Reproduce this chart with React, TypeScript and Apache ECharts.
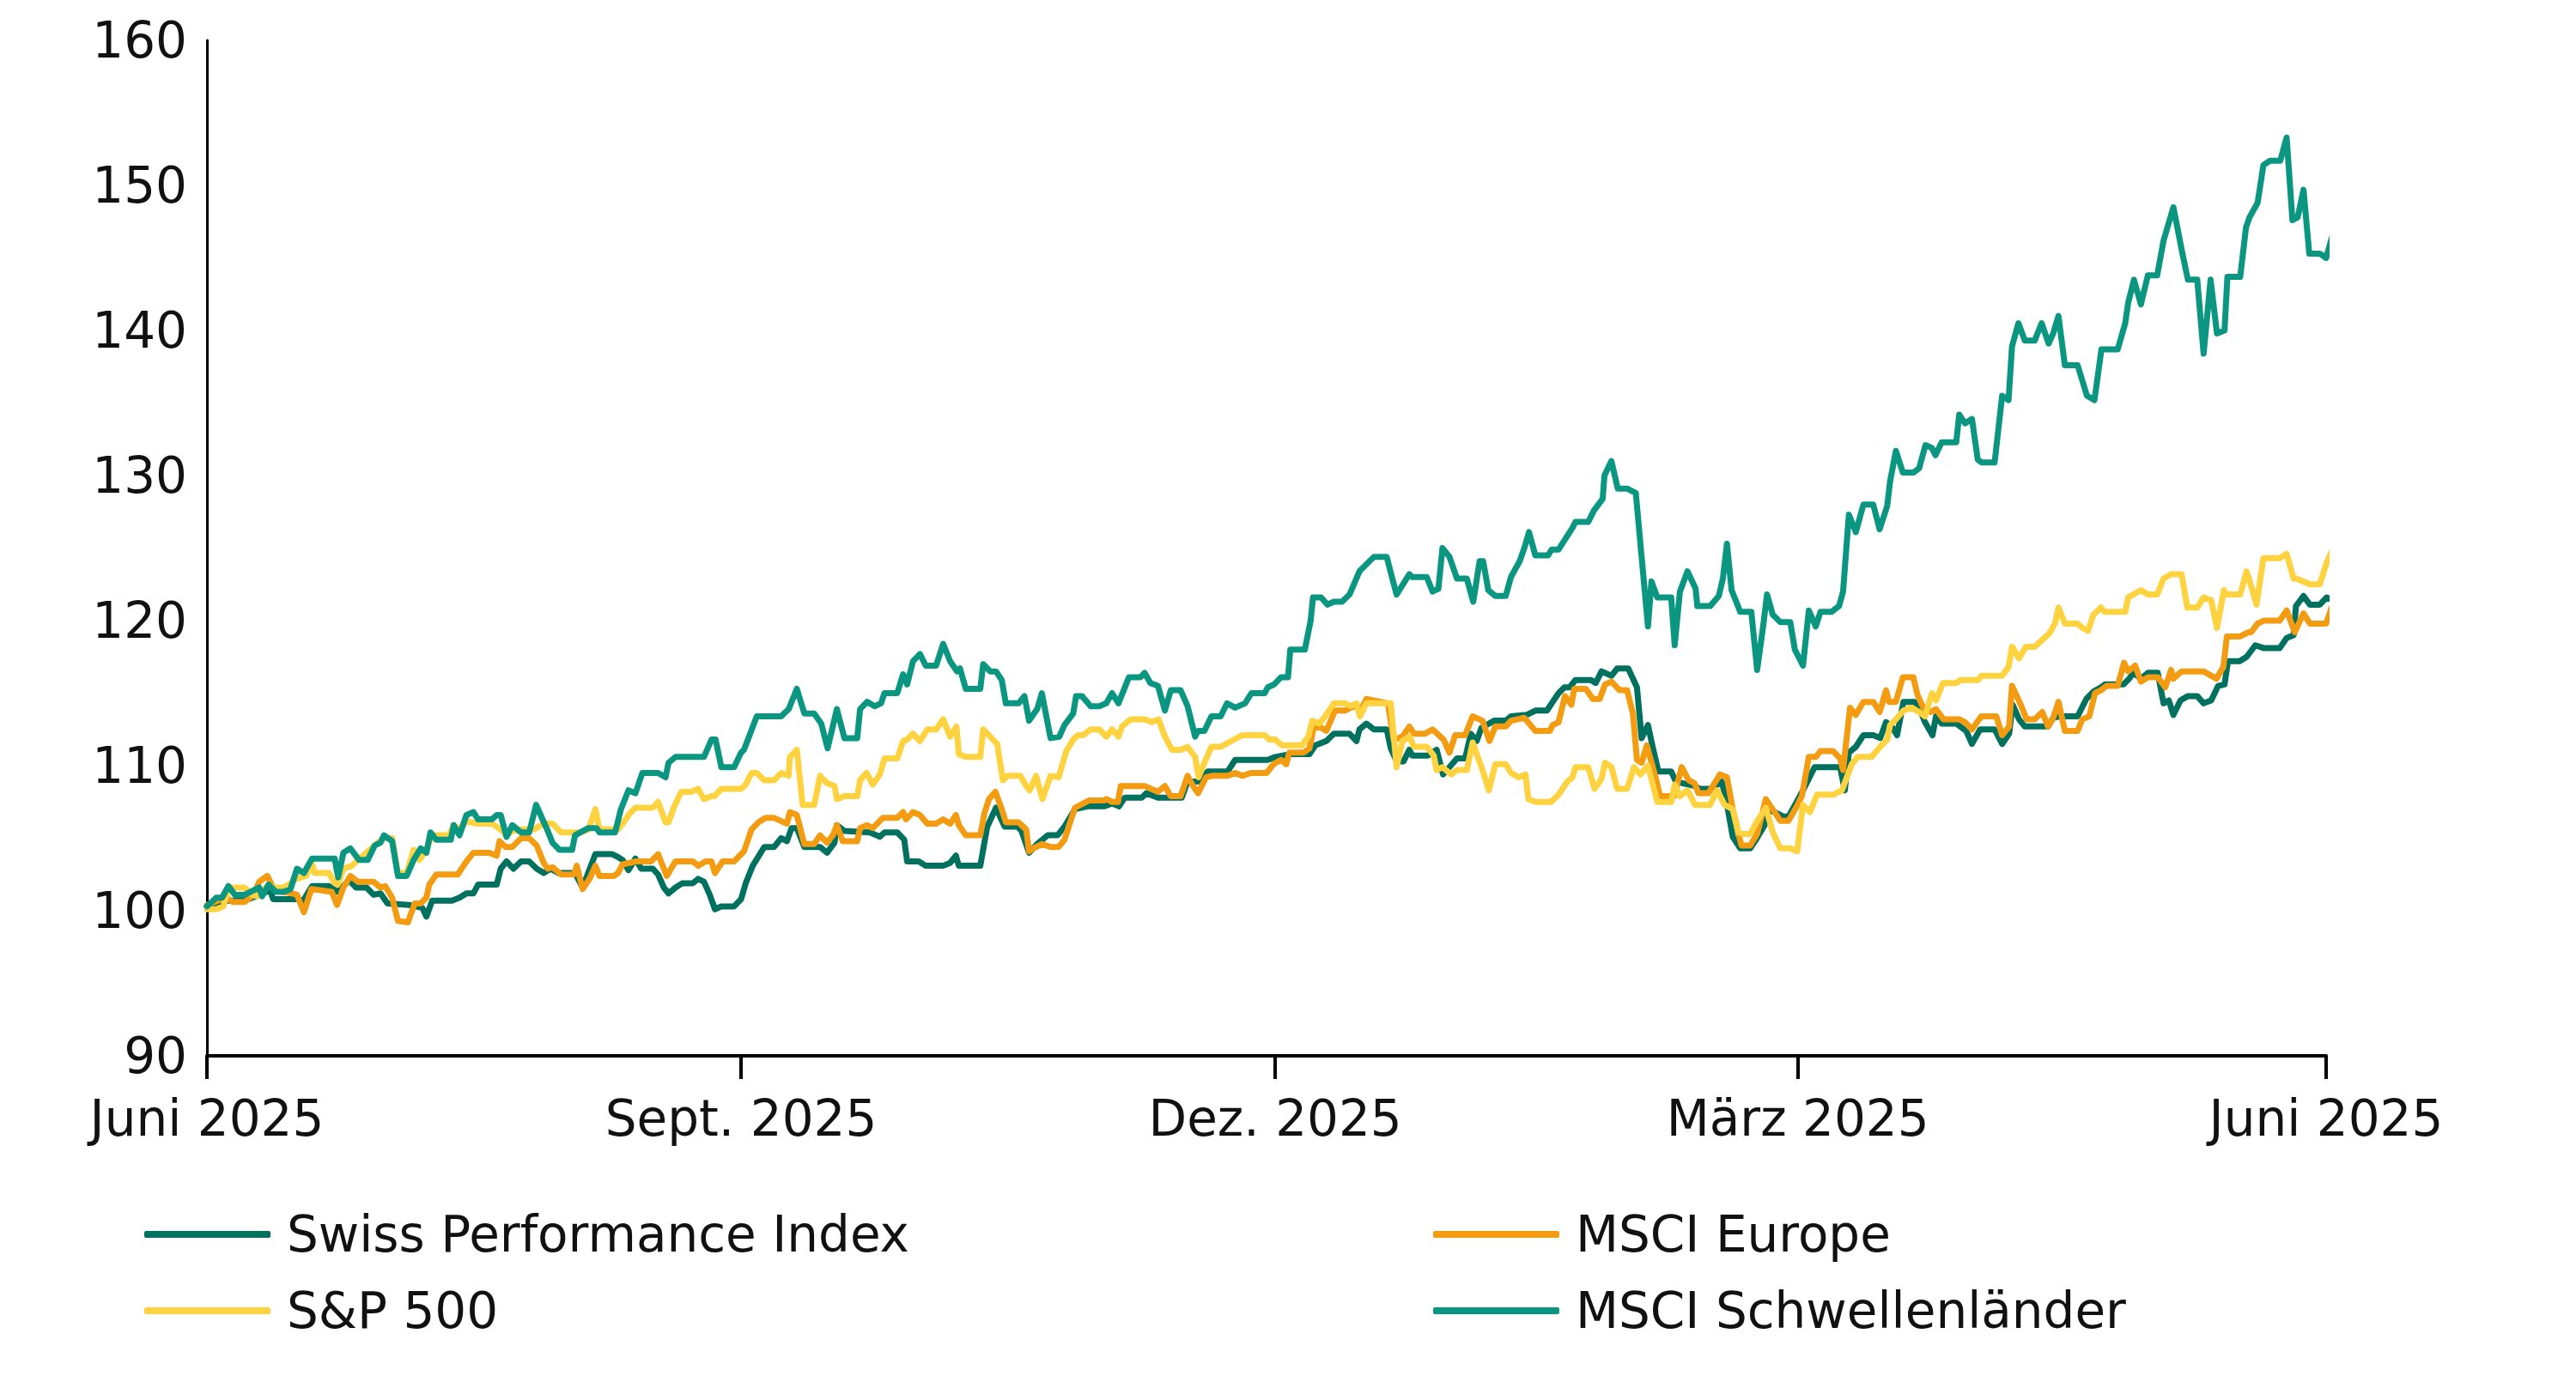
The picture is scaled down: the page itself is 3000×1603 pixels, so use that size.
import React, { useEffect, useRef } from "react";
import * as echarts from "echarts";

// x = days since start (Juni 2025), y = indexed value (start = 100)
const tickDays = [0, 92, 184, 274, 365];
const tickLabels = ["Juni 2025", "Sept. 2025", "Dez. 2025", "März 2025", "Juni 2025"];
const yTicks = [90, 100, 110, 120, 130, 140, 150, 160];

const spi: [number, number][] = [
  [0,100.3],[3.3,100.7],[6.5,100.7],[9.0,101.1],[10.9,101.4],[11.4,100.8],[15.4,100.8],[16.6,100.7],[18.1,101.7],[21.0,101.7],[22.5,101.3],[24.5,102.1],[25.7,101.6],[27.5,101.6],[28.7,101.1],[29.9,101.2],[31.1,100.5],[34.8,100.4],[37.1,100.2],[37.8,99.6],[38.8,100.7],[42.2,100.7],[43.5,100.9],[44.7,101.2],[45.9,101.2],[46.7,101.8],[49.9,101.8],[50.6,102.9],[51.6,103.4],[52.8,102.9],[54.1,103.4],[55.5,103.4],[56.8,102.9],[58.0,102.6],[59.2,102.9],[60.5,102.6],[63.4,102.6],[64.7,101.6],[66.9,103.9],[69.8,103.9],
  [70.8,103.7],[71.6,103.5],[72.6,102.8],[73.8,103.6],[74.8,102.9],[76.8,102.9],[77.7,102.5],[78.7,101.6],[79.5,101.2],[80.7,101.6],[81.9,101.9],[83.7,101.9],[84.6,102.2],[85.6,102.0],[86.6,101.1],[87.5,100.1],[88.6,100.3],[90.8,100.3],[92.0,100.8],[92.8,101.9],[94.0,103.1],[96.0,104.4],[97.7,104.4],[98.9,105.0],[99.9,104.8],[100.7,105.7],[101.6,105.7],[102.9,104.4],[105.6,104.4],[106.8,104.0],[108.1,104.7],[108.5,105.9],[109.8,105.5],[114.2,105.4],[115.9,105.1],[116.7,105.4],[118.9,105.4],[120.1,104.9],[120.6,103.4],[122.6,103.4],[123.8,103.1],[126.8,103.1],[128.0,103.3],[129.0,103.8],[129.5,103.1],[133.2,103.1],[134.4,105.8],[135.9,107.1],[137.4,105.8],[139.6,105.8],[140.3,105.5],[141.6,104.0],[143.0,104.6],[144.8,105.2],
  [146.5,105.2],[147.7,105.8],[149.5,107.0],[151.7,107.2],[154.6,107.2],[155.9,107.4],[157.1,107.2],[158.1,107.8],[161.0,107.8],[161.8,108.1],[163.8,107.8],[167.9,107.8],[168.9,108.9],[170.7,108.9],[172.4,109.6],[175.8,109.6],[177.1,110.4],[182.7,110.4],[184.0,110.6],[186.7,110.8],[189.9,110.8],[190.9,111.4],[192.8,111.7],[194.1,112.2],[196.8,112.2],[198.0,111.7],[198.5,112.5],[199.7,112.9],[201.0,112.5],[203.2,112.5],[203.9,111.2],[204.9,110.3],[206.1,110.3],[207.1,111.1],[207.6,110.7],[210.3,110.7],[211.8,111.1],[212.9,109.4],[214.0,109.9],[215.3,110.5],[216.7,110.5],[217.7,112.2],
  [218.7,111.7],[219.5,112.6],[221.7,113.1],[223.7,113.1],[224.6,113.4],[227.3,113.5],[228.8,113.8],[230.8,113.8],[231.8,114.4],[232.8,115.0],[233.8,115.4],[234.7,115.4],[235.7,115.9],[238.4,115.9],[239.2,115.7],[240.2,116.5],[241.9,116.2],[242.9,116.7],[244.8,116.7],[246.3,115.4],[247.1,111.9],[248.2,112.8],[249.0,111.3],[250.0,109.6],[252.2,109.6],[253.0,108.9],[256.2,108.6],[257.2,108.4],[258.9,108.4],[260.9,108.9],[261.6,107.8],[262.8,105.1],[264.1,104.3],[265.8,104.3],[266.8,104.9],[268.3,105.9],[268.5,107.0],[270.0,106.8],[271.5,106.5],[272.4,106.5],[273.4,107.2],[274.9,108.3],[276.9,109.9],[281.3,109.9],[282.1,108.3],[282.8,110.9],[284.0,111.3],[285.3,112.1],[287.0,112.1],[288.2,111.9],[289.2,113.0],[290.2,112.7],[291.1,112.1],[292.2,114.4],[294.1,114.4],
  [294.9,114.0],[295.9,113.0],[297.2,112.1],[297.8,113.4],[298.8,112.9],[301.3,112.9],[302.3,112.6],[303.0,112.4],[304.0,111.5],[305.4,112.5],[307.9,112.5],[309.2,111.5],[310.4,112.2],[311.0,114.2],[312.1,113.2],[313.1,112.7],[317.1,112.7],[318.0,113.3],[319.0,113.4],[322.2,113.4],[323.7,114.6],[324.9,115.1],[326.2,115.4],[326.9,115.6],[330.1,115.6],[331.1,116.0],[331.8,116.4],[333.1,116.0],[334.3,116.4],[336.0,116.4],[337.0,114.3],[337.9,114.5],[338.7,113.5],[339.9,114.5],[341.2,114.8],[342.8,114.8],[343.9,114.3],[345.2,114.5],[346.4,115.5],[347.5,115.6],[348.1,117.2],[350.1,117.2],[351.3,117.5],[352.8,118.3],[354.3,118.1],[357.0,118.1],[358.2,118.8],[359.4,119.0],[359.8,121.0],[361.1,121.7],[362.2,121.1],[363.9,121.1],[365.1,121.6],[366.2,121.4],
];

const msciEurope: [number, number][] = [
  [0,100.4],[3.3,100.9],[4.5,100.6],[6.5,100.6],[8.0,101.1],[9.0,102.0],[10.4,102.4],[11.4,101.6],[13.2,101.3],[14.6,101.2],[15.5,101.1],[16.7,99.9],[18.0,101.5],[21.5,101.3],[22.4,100.4],[23.5,101.6],[24.7,102.4],[26.0,102.0],[28.7,102.0],[29.9,101.6],[30.7,101.7],[31.9,100.9],[32.9,99.3],[34.6,99.2],[35.8,100.5],[36.8,100.5],[37.8,100.9],[38.3,101.8],[39.5,102.5],[43.2,102.5],[44.7,103.4],[45.9,104.0],[48.6,104.0],[49.9,103.8],[50.4,104.8],[51.4,104.4],[52.6,104.4],[54.1,105.0],[55.5,105.0],[56.8,104.5],[58.0,103.3],[58.7,102.9],[59.5,103.0],[61.0,102.5],[63.2,102.5],[63.7,103.1],[64.7,101.5],[65.9,102.2],[66.9,103.1],[67.6,102.4],[70.1,102.4],
  [70.8,102.6],[71.6,103.2],[72.8,103.3],[73.8,103.4],[76.5,103.4],[77.7,103.9],[79.2,102.4],[80.7,103.4],[83.7,103.4],[84.6,103.1],[85.9,103.4],[86.9,103.4],[87.5,102.6],[88.8,103.4],[90.8,103.4],[92.5,104.1],[93.8,105.6],[95.0,106.1],[96.2,106.4],[97.7,106.4],[99.9,106.0],[100.4,106.8],[101.6,106.6],[102.9,104.6],[104.6,104.6],[105.6,105.2],[106.8,104.7],[107.8,105.2],[108.5,105.9],[109.5,104.8],[112.0,104.8],[112.5,105.7],[113.7,105.9],[114.7,105.7],[116.4,106.4],[118.9,106.4],[119.9,106.8],[120.4,106.3],[121.6,106.8],[122.8,106.6],[124.1,106.0],[125.6,106.0],[126.8,106.3],[128.0,106.0],[129.0,106.6],[129.5,105.9],[130.7,105.2],[133.2,105.2],[133.9,106.7],[134.7,107.7],[135.8,108.2],[136.9,107.0],[137.6,106.1],[139.8,106.1],[141.1,105.6],[141.6,104.1],[142.3,104.3],[143.8,104.6],[145.3,104.4],[146.7,104.4],[147.7,104.9],
  [149.5,107.1],[151.9,107.6],[154.4,107.6],[154.9,107.7],[155.9,107.5],[156.9,107.5],[157.4,108.6],[161.5,108.6],[163.8,108.2],[165.0,108.6],[166.0,107.9],[167.7,107.9],[168.9,109.3],[169.7,108.7],[170.7,108.1],[172.1,109.2],[173.1,109.3],[175.8,109.3],[177.1,109.5],[178.3,109.3],[179.8,109.5],[182.5,109.5],[183.7,110.1],[185.0,110.4],[185.9,110.1],[186.4,110.9],[188.9,110.9],[189.9,111.2],[190.6,112.6],[191.6,112.7],[192.8,112.4],[194.3,113.8],[196.0,113.8],[197.0,114.0],[198.0,114.1],[198.8,113.9],[199.7,114.6],[203.4,114.3],[204.4,111.8],[205.9,112.0],[207.1,112.7],[207.9,112.2],[209.8,112.2],[211.1,112.5],[213.0,111.8],[214.0,110.9],[215.0,112.1],[216.7,112.1],[218.0,113.4],
  [219.7,113.1],[220.9,111.7],[221.9,112.7],[223.7,112.7],[224.6,113.1],[226.9,113.3],[228.8,112.4],[231.3,112.4],[231.8,112.8],[232.8,113.0],[233.9,114.8],[235.0,114.2],[235.5,115.3],[237.5,115.3],[238.7,114.6],[239.9,114.6],[240.8,115.6],[241.9,115.8],[243.3,115.2],[244.6,115.2],[245.6,113.6],[246.3,110.4],[247.1,110.2],[248.0,111.4],[249.3,109.5],[250.3,107.9],[252.7,107.9],[254.0,109.9],[255.2,109.0],[256.2,108.8],[256.9,108.1],[258.6,108.1],[260.6,109.4],[261.8,109.2],[262.8,107.0],[263.8,105.3],[264.3,104.5],[265.8,104.5],[267.0,105.3],[268.5,107.7],[270.0,106.8],[271.0,106.2],[272.4,106.2],[273.7,107.1],[274.7,107.9],[275.9,110.6],[277.1,110.6],[277.9,111.0],[280.1,111.0],[281.3,110.5],[281.8,109.7],[283.0,114.0],[284.0,113.5],[285.3,114.4],[287.0,114.4],[288.1,113.7],[289.2,115.2],[289.7,114.4],[290.9,114.4],[292.1,116.1],[293.9,116.1],
  [294.6,114.9],[295.6,114.0],[296.9,113.7],[297.8,113.9],[299.1,113.2],[301.8,113.2],[302.8,113.0],[304.0,112.5],[305.6,113.4],[308.2,113.4],[309.2,112.1],[310.4,112.7],[310.9,115.5],[312.4,114.2],[313.4,113.2],[314.8,113.2],[316.1,113.7],[317.1,112.7],[318.0,113.3],[318.9,114.4],[320.0,112.4],[322.2,112.4],[323.0,113.2],[324.2,113.4],[325.2,115.0],[326.2,115.2],[327.2,115.5],[329.1,115.5],[330.2,117.1],[330.9,116.5],[332.1,116.9],[333.1,115.8],[334.3,116.1],[336.0,116.1],[337.3,115.4],[338.3,116.6],[338.7,116.0],[340.1,116.5],[343.9,116.5],[346.1,116.0],[347.3,116.8],[347.9,118.9],[350.1,118.9],[351.6,119.2],[352.1,119.2],[353.2,119.8],[354.3,120.0],[357.0,120.0],[358.2,120.7],[359.6,119.2],[361.1,120.5],[362.2,119.8],[365.0,119.8],[366.2,121.2],
];

const sp500: [number, number][] = [
  [0,100.1],[1.6,100.1],[2.8,100.3],[3.8,101.6],[6.5,101.6],[7.7,101.1],[8.7,101.0],[10.4,101.7],[11.9,101.6],[13.2,101.6],[14.4,101.9],[15.4,102.2],[17.1,102.4],[18.1,103.2],[18.6,102.6],[21.0,102.6],[22.0,101.9],[22.5,101.8],[23.5,102.9],[25.0,103.1],[26.0,103.5],[28.9,104.5],[30.4,105.0],[31.9,105.0],[32.9,102.6],[34.4,102.6],[35.6,104.2],[36.6,103.5],[37.8,104.2],[38.8,105.2],[41.7,105.2],[42.5,105.9],[43.5,105.6],[44.7,106.2],[46.4,106.0],[49.1,106.0],[50.6,105.6],[51.6,105.2],[52.6,105.5],[54.1,105.6],[56.3,105.6],[58.0,106.0],[59.5,106.0],[61.0,105.4],[64.4,105.4],[65.7,105.6],[66.9,107.0],[67.6,105.6],[70.8,105.6],
  [71.8,106.1],[72.8,106.7],[73.8,107.1],[76.8,107.1],[77.7,107.5],[79.0,106.1],[79.5,106.1],[80.5,107.2],[81.7,108.2],[83.4,108.2],[84.6,108.4],[85.6,107.7],[86.9,107.9],[87.4,107.9],[88.6,108.4],[92.0,108.4],[92.8,108.7],[93.8,109.5],[94.7,109.5],[96.0,109.0],[97.7,109.0],[98.9,109.5],[100.2,109.3],[100.4,110.6],[101.6,111.1],[102.6,107.3],[104.6,107.3],[105.6,109.3],[106.8,108.8],[108.1,108.6],[108.5,107.7],[109.8,107.9],[112.0,107.9],[112.5,109.0],[113.6,109.5],[114.7,108.7],[115.9,109.4],[116.7,110.5],[118.9,110.5],[119.9,111.7],[120.6,111.8],[121.6,112.2],[122.8,111.7],[124.1,112.5],[125.6,112.5],[126.8,113.2],[128.0,112.0],[129.1,112.7],[129.5,110.8],[130.7,110.6],[133.2,110.6],[133.7,112.5],[134.9,112.0],[136.1,111.5],[137.1,109.0],[137.9,109.3],[140.1,109.3],[141.1,108.6],[141.7,108.3],[142.8,109.3],[143.9,107.7],[145.3,109.3],
  [146.7,109.2],[148.0,111.0],[149.2,111.8],[150.0,112.1],[150.9,112.1],[152.2,112.5],[153.7,112.5],[154.9,112.0],[155.9,112.5],[157.0,112.0],[157.6,112.7],[159.1,113.2],[161.5,113.2],[162.8,113.0],[163.9,113.2],[165.0,112.0],[166.2,111.1],[167.7,111.1],[168.9,111.3],[170.2,110.6],[170.8,109.2],[171.8,110.2],[173.0,111.3],[174.6,111.3],[178.3,112.1],[182.2,112.1],[183.0,111.8],[184.0,111.8],[185.2,111.4],[188.6,111.4],[189.7,112.0],[190.4,113.1],[191.6,112.9],[192.6,113.4],[194.1,114.3],[196.0,114.3],[197.0,114.1],[198.0,114.3],[198.6,113.4],[199.7,114.3],[203.9,114.3],[204.9,109.9],[205.9,111.7],[207.1,112.0],[207.9,111.3],[210.1,111.3],[211.3,110.7],[211.8,109.7],[212.8,109.9],[214.3,109.4],[215.3,109.7],[217.0,109.7],[218.0,111.6],
  [219.7,109.7],[220.8,108.3],[221.9,110.1],[223.7,110.1],[224.6,109.5],[225.9,109.2],[227.1,109.4],[227.6,107.7],[228.8,107.5],[231.5,107.5],[232.8,108.0],[234.3,108.9],[235.2,109.2],[235.7,109.9],[237.9,109.9],[239.0,108.4],[240.2,109.1],[240.8,110.2],[241.9,109.9],[242.9,108.4],[244.6,108.4],[245.8,109.9],[246.9,109.4],[248.2,110.0],[249.8,107.5],[252.2,107.5],[252.8,108.7],[253.7,107.9],[255.0,108.3],[256.3,107.3],[258.9,107.3],[260.1,108.3],[261.4,107.3],[262.8,107.0],[263.8,105.4],[264.6,105.3],[265.8,105.3],[266.9,106.1],[268.5,107.1],[269.7,105.4],[271.0,104.3],[272.7,104.3],[273.9,104.1],[274.9,107.3],[276.1,106.8],[277.3,108.0],[280.1,108.0],[281.6,108.3],[283.3,110.1],[284.3,110.6],[286.7,110.6],[288.2,111.3],[289.4,111.8],[289.9,112.8],[290.9,113.2],[292.2,113.8],[293.6,114.0],
  [294.9,113.7],[295.9,113.4],[297.1,115.0],[297.8,114.5],[299.0,115.7],[301.3,115.7],[302.0,115.9],[305.0,115.9],[305.7,116.2],[309.2,116.2],[310.3,116.8],[310.9,118.2],[312.1,117.4],[313.3,118.2],[314.8,118.2],[317.3,119.1],[318.3,119.8],[318.9,120.9],[320.0,119.8],[322.2,119.8],[323.0,119.5],[324.0,119.3],[324.9,120.4],[326.2,120.9],[326.9,120.6],[330.4,120.6],[330.9,121.6],[333.1,122.1],[334.3,121.8],[335.9,121.8],[337.0,122.9],[338.3,123.2],[340.1,123.2],[341.1,120.9],[342.8,120.9],[343.9,121.6],[345.2,121.4],[346.2,119.5],[347.4,122.1],[347.8,121.8],[350.2,121.8],[351.3,123.4],[352.3,122.1],[353.0,121.1],[354.2,124.3],[357.0,124.3],[358.2,124.6],[359.4,122.9],[359.9,122.9],[362.2,122.5],[363.9,122.5],[365.1,124.0],[366.2,125.0],
];

const msciEM: [number, number][] = [
  [0,100.3],[1.6,100.9],[2.6,100.9],[3.7,101.7],[4.8,101.1],[6.5,101.1],[9.0,101.6],[9.5,101.0],[10.6,101.8],[11.9,101.3],[13.2,101.3],[14.4,101.5],[15.5,102.9],[16.7,102.6],[18.1,103.6],[22.0,103.6],[22.6,102.3],[23.5,104.0],[24.7,104.3],[26.2,103.5],[27.7,103.5],[28.9,104.5],[29.9,104.7],[30.5,105.2],[31.9,104.8],[32.9,102.4],[34.4,102.4],[35.6,103.5],[36.8,104.3],[37.8,104.0],[38.5,105.4],[39.5,104.9],[42.0,104.9],[42.5,105.9],[43.5,105.2],[44.7,106.6],[45.9,106.8],[46.7,106.3],[49.1,106.3],[49.9,106.6],[50.6,106.6],[51.6,105.1],[52.6,105.9],[54.1,105.4],[55.5,105.4],[56.7,107.3],[57.8,106.3],[58.7,105.5],[59.5,104.7],[60.7,104.2],[62.9,104.2],[63.4,105.2],[65.7,105.7],[67.1,105.7],[67.6,105.4],[70.3,105.4],
  [71.3,107.0],[72.6,108.3],[73.8,108.1],[75.0,109.5],[77.7,109.5],[79.0,109.2],[79.5,110.2],[80.7,110.6],[85.6,110.6],[86.9,111.8],[87.6,111.8],[88.6,109.9],[90.8,109.9],[92.0,110.9],[92.5,111.1],[94.7,113.4],[98.9,113.4],[100.2,113.9],[101.6,115.3],[102.9,113.6],[104.6,113.6],[105.8,112.9],[106.9,111.2],[108.5,113.9],[109.8,111.9],[112.0,111.9],[112.5,113.9],[113.7,114.4],[115.0,114.1],[116.1,114.3],[116.7,115.0],[118.9,115.0],[119.9,116.3],[120.6,115.6],[121.6,117.2],[122.8,117.7],[123.8,116.9],[125.6,116.9],[126.8,118.4],[128.0,117.2],[129.2,116.5],[129.7,116.7],[130.7,115.3],[133.2,115.3],[133.7,117.0],[134.9,116.5],[135.9,116.5],[136.9,115.9],[137.6,114.3],[139.8,114.3],[140.8,114.8],[141.6,113.1],[143.0,113.9],[143.8,115.0],
  [145.3,111.9],[146.8,112.0],[147.7,112.8],[149.2,113.6],[149.7,114.8],[150.7,114.8],[152.2,114.1],[153.7,114.1],[154.9,114.3],[155.9,115.0],[157.0,114.3],[158.8,116.1],[160.8,116.1],[161.5,116.4],[162.5,115.7],[163.8,115.5],[165.0,113.8],[166.0,115.2],[167.7,115.2],[168.9,114.1],[170.2,112.0],[170.7,112.4],[171.8,112.4],[173.0,113.4],[174.6,113.4],[175.7,114.3],[177.1,114.0],[178.8,114.3],[179.9,115.0],[182.2,115.0],[182.7,115.4],[183.8,115.6],[185.0,116.1],[186.2,116.1],[186.6,118.0],[189.1,118.0],[190.1,120.0],[190.5,121.6],[191.9,121.6],[193.0,121.1],[194.1,121.3],[195.5,121.3],[196.8,121.8],[198.5,123.4],[201.0,124.4],[203.2,124.4],[203.9,123.3],[204.9,121.8],[207.1,123.2],[207.6,123.0],[210.1,123.0],[211.1,122.0],[212.1,122.2],[212.8,125.0],[214.0,124.4],[215.3,122.9],[217.0,122.9],[218.1,121.3],
  [219.2,124.1],[219.8,124.1],[220.7,122.1],[221.9,121.7],[223.7,121.7],[224.6,123.0],[226.1,124.1],[226.9,125.0],[227.7,126.1],[228.8,124.5],[231.0,124.5],[231.6,124.9],[232.8,124.9],[235.2,126.4],[235.7,126.8],[237.9,126.8],[238.9,127.6],[240.4,128.4],[240.7,130.0],[241.9,131.0],[243.0,129.1],[244.6,129.1],[246.1,128.8],[247.1,124.4],[248.2,119.6],[248.8,122.7],[249.8,121.6],[252.2,121.6],[252.8,118.3],[253.7,122.0],[255.0,123.4],[256.4,122.2],[256.7,121.0],[258.9,121.0],[260.4,121.7],[261.1,122.9],[261.8,125.3],[262.6,122.1],[264.1,120.6],[266.0,120.6],[267.0,116.6],[268.0,119.5],[268.7,121.8],[269.7,120.4],[271.0,119.9],[272.7,119.9],[273.5,118.0],[274.9,116.9],[275.9,120.7],[277.1,119.6],[277.9,120.6],[279.8,120.6],[281.1,121.0],[281.8,122.0],[282.8,127.3],[284.0,126.1],[285.3,128.0],[287.0,128.0],[288.1,126.3],[289.4,127.9],[289.9,129.6],[290.9,131.7],[292.1,130.2],[293.9,130.2],
  [294.9,130.5],[296.0,132.1],[297.1,131.9],[297.7,131.4],[298.8,132.3],[301.3,132.3],[301.8,134.2],[302.8,133.6],[304.0,133.9],[305.0,131.1],[305.7,130.9],[307.9,130.9],[309.2,135.5],[310.3,135.2],[310.9,138.9],[312.0,140.5],[313.1,139.3],[314.8,139.3],[316.0,140.5],[317.2,139.1],[318.0,139.8],[318.9,141.0],[320.0,137.6],[322.2,137.6],[323.8,135.5],[325.1,135.2],[326.3,138.7],[329.1,138.7],[330.4,140.5],[330.9,141.9],[331.9,143.5],[333.1,141.8],[334.3,143.8],[335.9,143.8],[337.0,146.2],[338.7,148.5],[340.1,145.6],[341.2,143.5],[342.8,143.5],[343.9,138.4],[345.1,143.5],[346.2,139.8],[347.5,140.0],[348.0,143.7],[350.2,143.7],[351.2,147.1],[351.8,147.8],[353.2,148.8],[354.2,151.4],[355.3,151.7],[357.1,151.7],[358.2,153.3],[359.2,147.6],[360.1,147.8],[361.1,149.7],[362.1,145.3],[363.9,145.3],[365.0,145.0],[366.2,146.7],
];

const seriesNames = ["Swiss Performance Index", "MSCI Europe", "S&P 500", "MSCI Schwellenländer"];
const seriesColors = ["#00705F", "#F39C12", "#FFD23F", "#0B9682"];
const seriesData = [spi, msciEurope, sp500, msciEM];

const FONT = "'DejaVu Sans', sans-serif";
const FS = 58;

export default function App() {
  const ref = useRef<HTMLDivElement>(null);
  useEffect(() => {
    if (!ref.current) return;
    const chart = echarts.init(ref.current, null, { renderer: "svg" });
    const legendCommon = {
      orient: "vertical",
      icon: "roundRect",
      itemWidth: 147,
      itemHeight: 8,
      itemGap: 29,
      textStyle: {
        fontFamily: FONT,
        fontSize: FS,
        color: "#111",
        lineHeight: 60,
        padding: [0, 0, 0, 14],
      },
    };
    chart.setOption({
      animation: false,
      backgroundColor: "#fff",
      grid: { left: 241, right: 291, top: 47, bottom: 373, containLabel: false },
      legend: [
        { ...legendCommon, left: 163, top: 1403, data: [seriesNames[0], seriesNames[2]] },
        { ...legendCommon, left: 1664, top: 1403, data: [seriesNames[1], seriesNames[3]] },
      ],
      xAxis: {
        type: "value",
        min: 0,
        max: 365,
        splitLine: { show: false },
        axisLine: { show: true, onZero: false, lineStyle: { color: "#000", width: 4 } },
        axisTick: {
          show: true,
          length: 27,
          customValues: tickDays,
          lineStyle: { color: "#000", width: 4 },
        },
        axisLabel: {
          show: true,
          customValues: tickDays,
          margin: 44,
          fontFamily: FONT,
          fontSize: FS,
          color: "#111",
          formatter: (v: number) => {
            const i = tickDays.indexOf(Math.round(v));
            return i >= 0 ? tickLabels[i] : "";
          },
        },
      },
      yAxis: {
        type: "value",
        min: yTicks[0],
        max: yTicks[yTicks.length - 1],
        interval: 10,
        splitLine: { show: false },
        axisLine: { show: true, lineStyle: { color: "#000", width: 3 } },
        axisTick: { show: false },
        axisLabel: {
          margin: 23,
          fontFamily: FONT,
          fontSize: FS,
          color: "#111",
          padding: [0, 0, 6, 0],
        },
      },
      series: seriesData.map((d, i) => ({
        name: seriesNames[i],
        type: "line",
        data: d,
        showSymbol: false,
        symbol: "none",
        clip: false,
        color: seriesColors[i],
        lineStyle: { width: 7, color: seriesColors[i], join: "round", cap: "round" },
        z: 2 + i,
      })),
    });
    return () => chart.dispose();
  }, []);
  return (
    <div
      ref={ref}
      style={{ position: "fixed", left: 0, top: 0, width: 3000, height: 1603, background: "#fff" }}
    />
  );
}
